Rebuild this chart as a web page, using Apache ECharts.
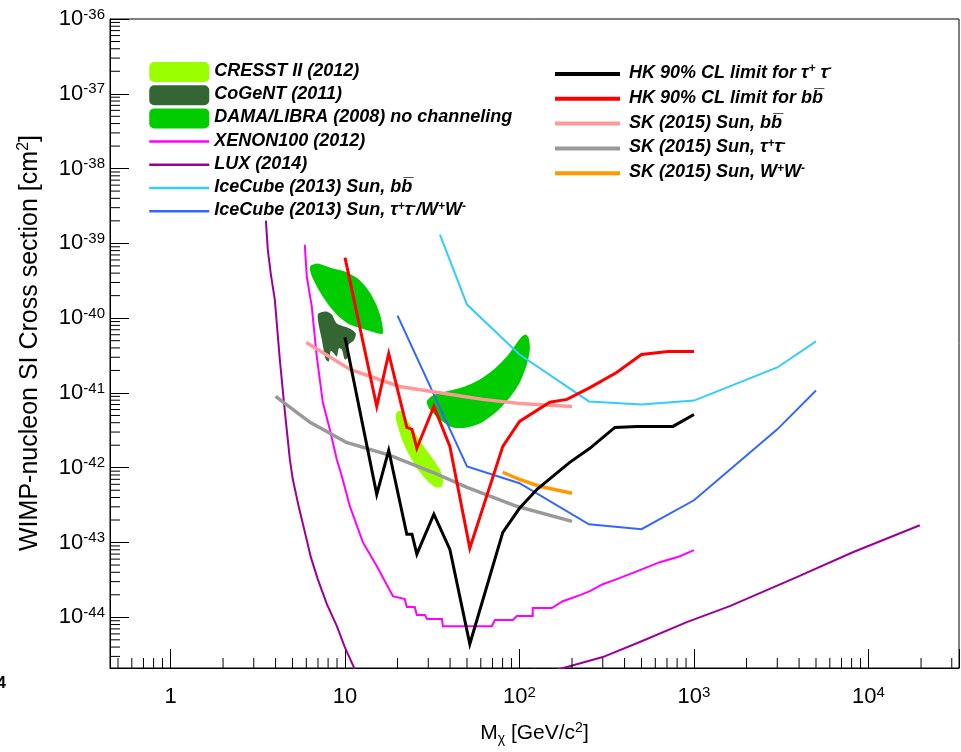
<!DOCTYPE html>
<html>
<head>
<meta charset="utf-8">
<script src="https://cdn.jsdelivr.net/npm/echarts@6/dist/echarts.min.js"></script>
<style>
  html, body { margin: 0; padding: 0; background: #ffffff; }
  #chart { width: 961px; height: 752px; }
</style>
</head>
<body>
<div id="chart"></div>
<script>
// ---- axis ranges (GeV/c^2, cm^2) ----
const massRange = [0.45, 33000];
const sigmaRange = [2.1e-45, 1e-36];

// ---- minor tick helpers (log decades x 2..9) ----
const tickDecadesX = [0.1, 1, 10, 100, 1000, 10000];
const tickDecadesY = [1e-46, 1e-45, 1e-44, 1e-43, 1e-42, 1e-41, 1e-40, 1e-39, 1e-38, 1e-37];
const tickMultipliers = [2, 3, 4, 5, 6, 7, 8, 9];

// ---- allowed regions (filled contours) ----
const cresstRegion = [
  [19.8, 5.50e-42], [20.6, 5.84e-42], [21.7, 5.32e-42], [23.5, 3.79e-42], [26.8, 2.32e-42],
  [31.4, 1.38e-42], [34.9, 9.53e-43], [36.4, 7.0e-43], [35.9, 5.65e-43], [33.1, 5.47e-43],
  [29.8, 6.58e-43], [26.1, 9.53e-43], [23.2, 1.51e-42], [21.2, 2.39e-42], [20.1, 3.57e-42],
  [19.5, 4.71e-42]
];
const cogentRegion = [
  [6.98, 1.12e-40], [7.76, 1.23e-40], [8.40, 1.12e-40], [8.98, 8.47e-41], [10.65, 7.26e-41],
  [11.53, 6.22e-41], [11.23, 5.02e-41], [10.5, 4.45e-41], [10.37, 2.98e-41], [9.97, 2.80e-41],
  [9.59, 3.81e-41], [9.21, 3.93e-41], [8.98, 3.07e-41], [8.63, 3.37e-41], [8.29, 3.69e-41],
  [8.07, 2.64e-41], [7.76, 2.80e-41], [7.36, 5.18e-41]
];
const damaLowMass = [
  [6.37, 5.04e-40], [6.98, 5.36e-40], [8.18, 4.74e-40], [9.97, 4.19e-40], [11.84, 3.38e-40],
  [13.51, 2.41e-40], [15.01, 1.57e-40], [16.04, 1.02e-40], [16.47, 6.22e-41], [14.82, 6.43e-41],
  [12.48, 7.26e-41], [10.65, 8.22e-41], [9.34, 1.02e-40], [8.18, 1.43e-40], [7.17, 2.26e-40],
  [6.54, 3.38e-40], [6.29, 4.45e-40]
];
const damaHighMass = [
  [29.4, 7.69e-42], [31.9, 9.26e-42], [38.3, 1.05e-41], [48.6, 1.22e-41], [59.2, 1.51e-41],
  [72.2, 2.12e-41], [84.6, 3.07e-41], [95.2, 4.45e-41], [103.1, 5.68e-41], [108.7, 6.04e-41],
  [113.1, 5.35e-41], [114.6, 3.81e-41], [110.1, 2.40e-41], [100.4, 1.38e-41], [88.0, 8.71e-42],
  [74.1, 5.66e-42], [60.8, 4.04e-42], [49.9, 3.46e-42], [41.5, 3.46e-42], [34.9, 4.43e-42],
  [30.6, 6.03e-42]
];

// ---- exclusion limits ----
const xenon100 = [
  [5.88, 9.6e-40], [6.04, 3.6e-40], [6.45, 1.43e-40], [6.89, 3.07e-41], [7.46, 7.5e-42],
  [8.18, 3.26e-42], [8.97, 1.29e-42], [9.59, 7.7e-43], [10.66, 3.05e-43], [12.65, 1.01e-43],
  [15.23, 4.83e-44], [18.82, 1.92e-44], [22.0, 1.75e-44], [22.6, 1.37e-44], [25.1, 1.37e-44],
  [25.8, 1.07e-44], [28.7, 1.07e-44], [29.5, 9.5e-45], [35.9, 9.5e-45], [36.4, 7.6e-45],
  [69.4, 7.6e-45], [72.2, 9.2e-45], [91.6, 9.2e-45], [96.6, 1.04e-44], [119, 1.04e-44],
  [119, 1.33e-44], [153, 1.33e-44], [177, 1.64e-44], [222, 1.98e-44], [253, 2.24e-44],
  [300, 2.77e-44], [361, 3.24e-44], [490, 4.27e-44], [637, 5.46e-44], [830, 6.56e-44],
  [1000, 7.9e-44]
];
const luxLowMass = [
  [3.52, 2.01e-39], [3.61, 8.24e-40], [3.76, 3.82e-40], [3.96, 1.77e-40], [4.23, 2.80e-41],
  [4.52, 5.66e-42], [4.83, 1.29e-42], [5.02, 7.0e-43], [5.44, 2.96e-43], [5.89, 1.37e-43],
  [6.37, 6.37e-44], [6.98, 3.24e-44], [7.87, 1.50e-44], [8.98, 7.64e-45], [9.97, 4.0e-45],
  [11.23, 2.16e-45], [12.48, 1.17e-45]
];
const luxHighMass = [
  [149, 1.87e-45], [187, 2.16e-45], [300, 2.94e-45], [489, 4.67e-45], [909, 8.63e-45],
  [1604, 1.41e-44], [3882, 3.44e-44], [8128, 7.41e-44], [19680, 1.70e-43]
];
const iceCubeBB = [
  [35, 1.31e-39], [50, 1.52e-40], [100, 3.27e-41], [250, 7.7e-42], [500, 7.0e-42],
  [1000, 7.9e-42], [3000, 2.19e-41], [5000, 4.9e-41]
];
const iceCubeTauW = [
  [20, 1.08e-40], [50, 1.04e-42], [100, 6.2e-43], [250, 1.75e-43], [500, 1.51e-43],
  [1000, 3.67e-43], [3000, 3.26e-42], [5000, 1.08e-41]
];
const hkTauTau = [
  [10, 5.5e-41], [15.2, 4.4e-43], [17.8, 1.71e-42], [22.6, 1.29e-43], [24.2, 1.29e-43],
  [25.8, 6.98e-44], [32.3, 2.39e-43], [39.9, 8.1e-44], [51.9, 4.39e-45], [80.2, 1.37e-43],
  [100, 2.87e-43], [126, 5.15e-43], [194, 1.18e-42], [253, 1.82e-42], [352, 3.46e-42],
  [471, 3.57e-42], [757, 3.57e-42], [1000, 5.16e-42]
];
const hkBB = [
  [10, 6.44e-40], [15.2, 6.6e-42], [17.8, 3.37e-41], [22.6, 3.46e-42], [24.2, 3.26e-42],
  [25.8, 1.82e-42], [32.3, 6.6e-42], [39.9, 1.93e-42], [51.9, 8.4e-44], [80.2, 1.93e-42],
  [100, 4.16e-42], [149, 7.5e-42], [187, 8.2e-42], [253, 1.18e-41], [360, 1.88e-41],
  [500, 3.27e-41], [710, 3.58e-41], [1000, 3.58e-41]
];
const skBB = [
  [6, 4.72e-41], [10.7, 2.06e-41], [20.5, 1.22e-41], [33.5, 1.02e-41], [61.5, 8.2e-42],
  [100, 7.24e-42], [200, 6.6e-42]
];
const skTauTau = [
  [4, 8.97e-42], [6.3, 4.04e-42], [10.2, 2.18e-42], [18.1, 1.46e-42], [31.8, 8.7e-43],
  [50, 5.47e-43], [96.5, 3.05e-43], [200, 1.92e-43]
];
const skWW = [
  [80, 8.7e-43], [100, 7.0e-43], [130, 5.65e-43], [200, 4.55e-43]
];

// ---- legend entries ----
const legendLeft = [
  'CRESST II (2012)', 'CoGeNT (2011)', 'DAMA/LIBRA (2008) no channeling',
  'XENON100 (2012)', 'LUX (2014)', 'IceCube (2013) Sun, bb', 'IceCube (2013) Sun, tautau/WW'
];
const legendRight = [
  'HK 90% CL limit for tautau', 'HK 90% CL limit for bb',
  'SK (2015) Sun, bb', 'SK (2015) Sun, tautau', 'SK (2015) Sun, WW'
];
const legendText = {
  'CRESST II (2012)': '{t|CRESST II (2012)}',
  'CoGeNT (2011)': '{t|CoGeNT (2011)}',
  'DAMA/LIBRA (2008) no channeling': '{t|DAMA/LIBRA (2008) no channeling}',
  'XENON100 (2012)': '{t|XENON100 (2012)}',
  'LUX (2014)': '{t|LUX (2014)}',
  'IceCube (2013) Sun, bb': '{t|IceCube (2013) Sun, bb\u0305}',
  'IceCube (2013) Sun, tautau/WW': '{t|IceCube (2013) Sun, \u03c4}{u|+}{t|\u03c4}{u|-}{t|/W}{u|+}{t|W}{u|-}',
  'HK 90% CL limit for tautau': '{t|HK 90% CL limit for \u03c4}{u|+}{t| \u03c4}{u|-}',
  'HK 90% CL limit for bb': '{t|HK 90% CL limit for bb\u0305}',
  'SK (2015) Sun, bb': '{t|SK (2015) Sun, bb\u0305}',
  'SK (2015) Sun, tautau': '{t|SK (2015) Sun, \u03c4}{u|+}{t|\u03c4}{u|-}',
  'SK (2015) Sun, WW': '{t|SK (2015) Sun, W}{u|+}{t|W}{u|-}'
};
const yTitle = '{n|WIMP-nucleon SI Cross section [cm}{sup|2}{n|]}';
const xTitle = '{n|M}{sub|\u03c7}{n| [GeV/c}{sup|2}{n|]}';

const FONT = '"Liberation Sans", Arial, Helvetica, sans-serif';

function isDecade(v) {
  const e = Math.log10(v);
  return Math.abs(e - Math.round(e)) < 1e-6;
}

function minorTicks(decades, range) {
  const out = [];
  decades.forEach(d => tickMultipliers.forEach(m => {
    const v = d * m;
    if (v > range[0] && v < range[1]) out.push(v);
  }));
  return out;
}

function regionSeries(name, color, regions) {
  const pts = [].concat(...regions);
  return {
    type: 'custom', name, coordinateSystem: 'cartesian2d',
    data: pts, encode: { x: 0, y: 1 },
    itemStyle: { color }, silent: true, animation: false, z: 2,
    renderItem(params, api) {
      if (params.dataIndex !== 0) return null;
      return {
        type: 'group',
        children: regions.map(r => ({
          type: 'polygon',
          shape: { points: r.map(p => api.coord(p)), smooth: 0.25 },
          style: { fill: color }
        }))
      };
    }
  };
}

function lineSeries(name, data, color, width) {
  return {
    type: 'line', name, data, symbol: 'none', showSymbol: false,
    lineStyle: { color, width, join: 'miter' }, itemStyle: { color },
    silent: true, animation: false, clip: true, z: 3
  };
}

const legendRich = {
  t: { fontFamily: FONT, fontSize: 18, fontStyle: 'italic', fontWeight: 'bold', color: '#000', lineHeight: 20 },
  u: { fontFamily: FONT, fontSize: 12, fontStyle: 'italic', fontWeight: 'bold', color: '#000', lineHeight: 9, verticalAlign: 'top' }
};
const axisRich = {
  b: { fontFamily: FONT, fontSize: 22, color: '#000', lineHeight: 24 },
  s: { fontFamily: FONT, fontSize: 15, color: '#000', lineHeight: 8, verticalAlign: 'top' }
};
const xTitleRich = {
  n: { fontFamily: FONT, fontSize: 21, color: '#000', lineHeight: 25 },
  sup: { fontFamily: FONT, fontSize: 14, color: '#000', lineHeight: 10, verticalAlign: 'top' },
  sub: { fontFamily: FONT, fontSize: 14, color: '#000', lineHeight: 10, verticalAlign: 'bottom' }
};
const yTitleRich = {
  n: { fontFamily: FONT, fontSize: 25, color: '#000', lineHeight: 29 },
  sup: { fontFamily: FONT, fontSize: 16, color: '#000', lineHeight: 12, verticalAlign: 'top' }
};

const chart = echarts.init(document.getElementById('chart'), null, { renderer: 'canvas' });

const minorX = minorTicks(tickDecadesX, massRange);
const minorY = minorTicks(tickDecadesY, sigmaRange);

// line entries get a bare stroke in the legend (no marker dot)
const lineLegendItem = n => ({ name: n, itemStyle: { opacity: 0 } });

const option = {
  animation: false,
  backgroundColor: '#ffffff',
  grid: {
    left: 110, top: 19, right: 2, bottom: 84,
    containLabel: false, outerBoundsMode: 'none',
    show: true, borderColor: '#000', borderWidth: 1, backgroundColor: 'transparent'
  },
  xAxis: {
    type: 'log', logBase: 10, min: massRange[0], max: massRange[1],
    axisLine: { show: true, onZero: false, lineStyle: { color: '#000', width: 1 } },
    axisTick: { show: true, inside: true, length: 19, lineStyle: { color: '#000', width: 1 } },
    minorTick: { show: false },
    splitLine: { show: false },
    axisLabel: {
      margin: 17,
      formatter: v => {
        if (!isDecade(v)) return '';
        const e = Math.round(Math.log10(v));
        if (e === 0) return '{b|1}';
        if (e === 1) return '{b|10}';
        return '{b|10}{s|' + e + '}';
      },
      rich: axisRich
    },
    name: xTitle,
    nameLocation: 'middle', nameGap: 53,
    nameTextStyle: { rich: xTitleRich }
  },
  yAxis: {
    type: 'log', logBase: 10, min: sigmaRange[0], max: sigmaRange[1],
    axisLine: { show: true, onZero: false, lineStyle: { color: '#000', width: 1 } },
    axisTick: { show: true, inside: true, length: 19, lineStyle: { color: '#000', width: 1 } },
    minorTick: { show: false },
    splitLine: { show: false },
    axisLabel: {
      margin: 5,
      formatter: v => {
        if (!isDecade(v)) return '';
        const e = Math.round(Math.log10(v));
        return '{b|10}{s|' + e + '}';
      },
      rich: axisRich
    }
  },
  legend: [
    {
      left: 143, top: 56, orient: 'vertical', itemWidth: 60, itemHeight: 20, itemGap: 1.2,
      selectedMode: false,
      data: legendLeft.map((n, i) => (i < 3 ? { name: n, icon: 'roundRect' } : lineLegendItem(n))),
      formatter: n => legendText[n],
      textStyle: { padding: [0, 0, 0, 0], height: 22, lineHeight: 22, fontSize: 18, rich: legendRich },
      lineStyle: { width: 2.5 }
    },
    {
      left: 548, top: 58, orient: 'vertical', itemWidth: 65, itemHeight: 20, itemGap: 2.8,
      selectedMode: false,
      data: legendRight.map(lineLegendItem),
      formatter: n => legendText[n],
      textStyle: { padding: [0, 0, 0, 4], height: 22, lineHeight: 22, fontSize: 18, rich: legendRich },
      lineStyle: { width: 4 }
    }
  ],
  graphic: [
    {
      type: 'text', x: 30, y: 343, rotation: Math.PI / 2,
      style: { text: yTitle, rich: yTitleRich, align: 'center', verticalAlign: 'middle' }
    },
    { type: 'text', left: -3, top: 676, style: { text: '4', font: 'bold 16px ' + FONT, fill: '#000' } }
  ],
  series: [
    // minor ticks along the bottom and left axes
    {
      type: 'custom', coordinateSystem: 'cartesian2d', silent: true, animation: false, z: 5,
      data: minorX.map(v => [v, sigmaRange[0]]),
      renderItem(params, api) {
        const p = api.coord([api.value(0), api.value(1)]);
        return { type: 'line', shape: { x1: p[0], y1: p[1], x2: p[0], y2: p[1] - 10 }, style: { stroke: '#000', lineWidth: 1 } };
      }
    },
    {
      type: 'custom', coordinateSystem: 'cartesian2d', silent: true, animation: false, z: 5,
      data: minorY.map(v => [massRange[0], v]),
      renderItem(params, api) {
        const p = api.coord([api.value(0), api.value(1)]);
        return { type: 'line', shape: { x1: p[0], y1: p[1], x2: p[0] + 10, y2: p[1] }, style: { stroke: '#000', lineWidth: 1 } };
      }
    },
    regionSeries('CRESST II (2012)', '#99ff00', [cresstRegion]),
    regionSeries('CoGeNT (2011)', '#336633', [cogentRegion]),
    regionSeries('DAMA/LIBRA (2008) no channeling', '#00cc00', [damaLowMass, damaHighMass]),
    lineSeries('XENON100 (2012)', xenon100, '#ff00ff', 2),
    lineSeries('LUX (2014)', luxLowMass, '#990099', 2),
    lineSeries('LUX (2014)', luxHighMass, '#990099', 2),
    lineSeries('IceCube (2013) Sun, bb', iceCubeBB, '#33ccff', 2),
    lineSeries('IceCube (2013) Sun, tautau/WW', iceCubeTauW, '#3366ff', 2),
    lineSeries('SK (2015) Sun, bb', skBB, '#ff9999', 3.5),
    lineSeries('SK (2015) Sun, tautau', skTauTau, '#999999', 3.5),
    lineSeries('SK (2015) Sun, WW', skWW, '#ff9900', 3.5),
    lineSeries('HK 90% CL limit for bb', hkBB, '#ff0000', 3),
    lineSeries('HK 90% CL limit for tautau', hkTauTau, '#000000', 3)
  ]
};

chart.setOption(option);
</script>
</body>
</html>
